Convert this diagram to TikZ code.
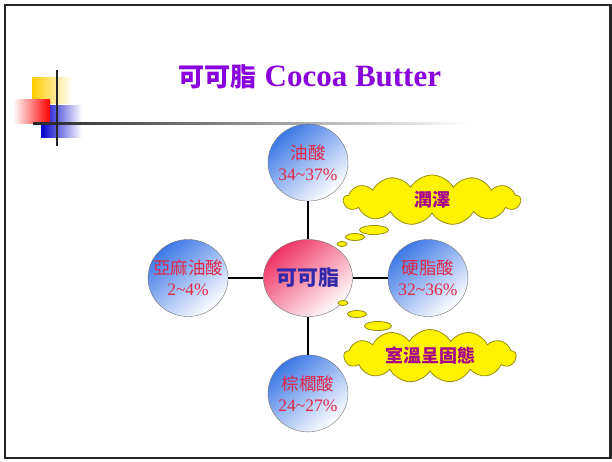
\documentclass[tikz,border=0pt]{standalone}
\usepackage{fontspec}
\setmainfont{Liberation Serif}
\newfontfamily\cjk{Noto Sans CJK TC}
\usetikzlibrary{shapes,shapes.symbols,shapes.geometric}
\usetikzlibrary{positioning}
\definecolor{titlepurple}{RGB}{138,0,220}
\definecolor{acidred}{RGB}{226,40,70}
\definecolor{acidblue}{RGB}{60,120,230}
\definecolor{fatpink}{RGB}{240,50,100}
\definecolor{fatblue}{RGB}{50,40,170}
\definecolor{cloudtext}{RGB}{165,0,140}
\definecolor{cloudline}{RGB}{150,140,20}
\definecolor{gold}{RGB}{255,205,0}
\tikzset{acid/.style={ellipse,draw=black!55,thin,shading=axis,top color=acidblue,
bottom color=white,shading angle=40,minimum width=80pt,minimum height=77pt,
inner sep=0pt,align=center,text=acidred,font=\fontsize{17.5}{21}\selectfont},
fat/.style={acid,top color=fatpink,bottom color=white,shading angle=40,
text=fatblue,font=\fontsize{21}{21}\selectfont\cjk\bfseries},
spoke/.style={draw=black,line width=2pt},
thought/.style={cloud,cloud puffs=13,cloud puff arc=120,aspect=3.5,fill=yellow,
draw=cloudline,thick,inner sep=0pt,text=cloudtext,
font=\fontsize{18}{18}\selectfont\cjk\bfseries},
bubble/.style={ellipse,fill=yellow,draw=cloudline,thick,inner sep=0pt}}
\newcommand{\acidtext}[2]{\makebox[50pt]{\cjk #1}\\\makebox[50pt]{#2}}
\begin{document}
\begin{tikzpicture}[x=1pt,y=-1pt]
  \useasboundingbox (0,0) rectangle (612,461);
  \clip (0,0) rectangle (612,461);
  \draw [line width=2.5pt,black!85] (5,5) rectangle (610.5,458);

  % corner mark
  \shade [left color=gold,middle color=gold,right color=white] (32,77) rectangle (72,103);
  \shade [left color=blue!80!black,middle color=blue!80!black,right color=white] (41,105) rectangle (82,137);
  \shade [left color=white,right color=red] (13,99) rectangle (50,123);
  \shade [left color=black!85,right color=white] (33,122) rectangle (470,124.5);
  \draw [line width=1.6pt,black!85] (57,70) -- (57,146);

  \node (title) [font=\fontsize{31}{31}\selectfont\bfseries,text=titlepurple] at (310,77)
    {{\fontsize{26}{26}\selectfont\cjk 可可脂} Cocoa Butter};

  \node [matrix,matrix anchor=center,column sep=35pt,row sep=38pt,ampersand replacement=\&] at (308,278) {
    \& \node (acid1) [acid] {\acidtext{油酸}{34\textasciitilde37\%}}; \& \\
    \node (acid2) [acid] {\acidtext{亞麻油酸}{2\textasciitilde4\%}}; \&
    \node (fat) [fat] {可可脂}; \&
    \node (acid3) [acid] {\acidtext{硬脂酸}{32\textasciitilde36\%}}; \\
    \& \node (acid4) [acid] {\acidtext{棕櫚酸}{24\textasciitilde27\%}}; \& \\
  };
  \draw [spoke] (fat) -- (acid1);
  \draw [spoke] (fat) -- (acid2);
  \draw [spoke] (fat) -- (acid3);
  \draw [spoke] (fat) -- (acid4);

  \node (gloss) [thought,minimum width=177pt,minimum height=50pt] at (432,200) {潤澤};
  \node (solid) [thought,minimum width=172pt,minimum height=46pt] at (430,356) {室溫呈固態};

  \foreach \n/\x/\y/\w/\h in {1/342/244/10/5, 2/355/237/19/7, 3/374/230/29/9,
                              4/343/303/10/5, 5/357/314/19/7, 6/378/326/27/9}
    \node (bub\n) [bubble,minimum width=\w pt,minimum height=\h pt] at (\x,\y) {};
\end{tikzpicture}
\end{document}
